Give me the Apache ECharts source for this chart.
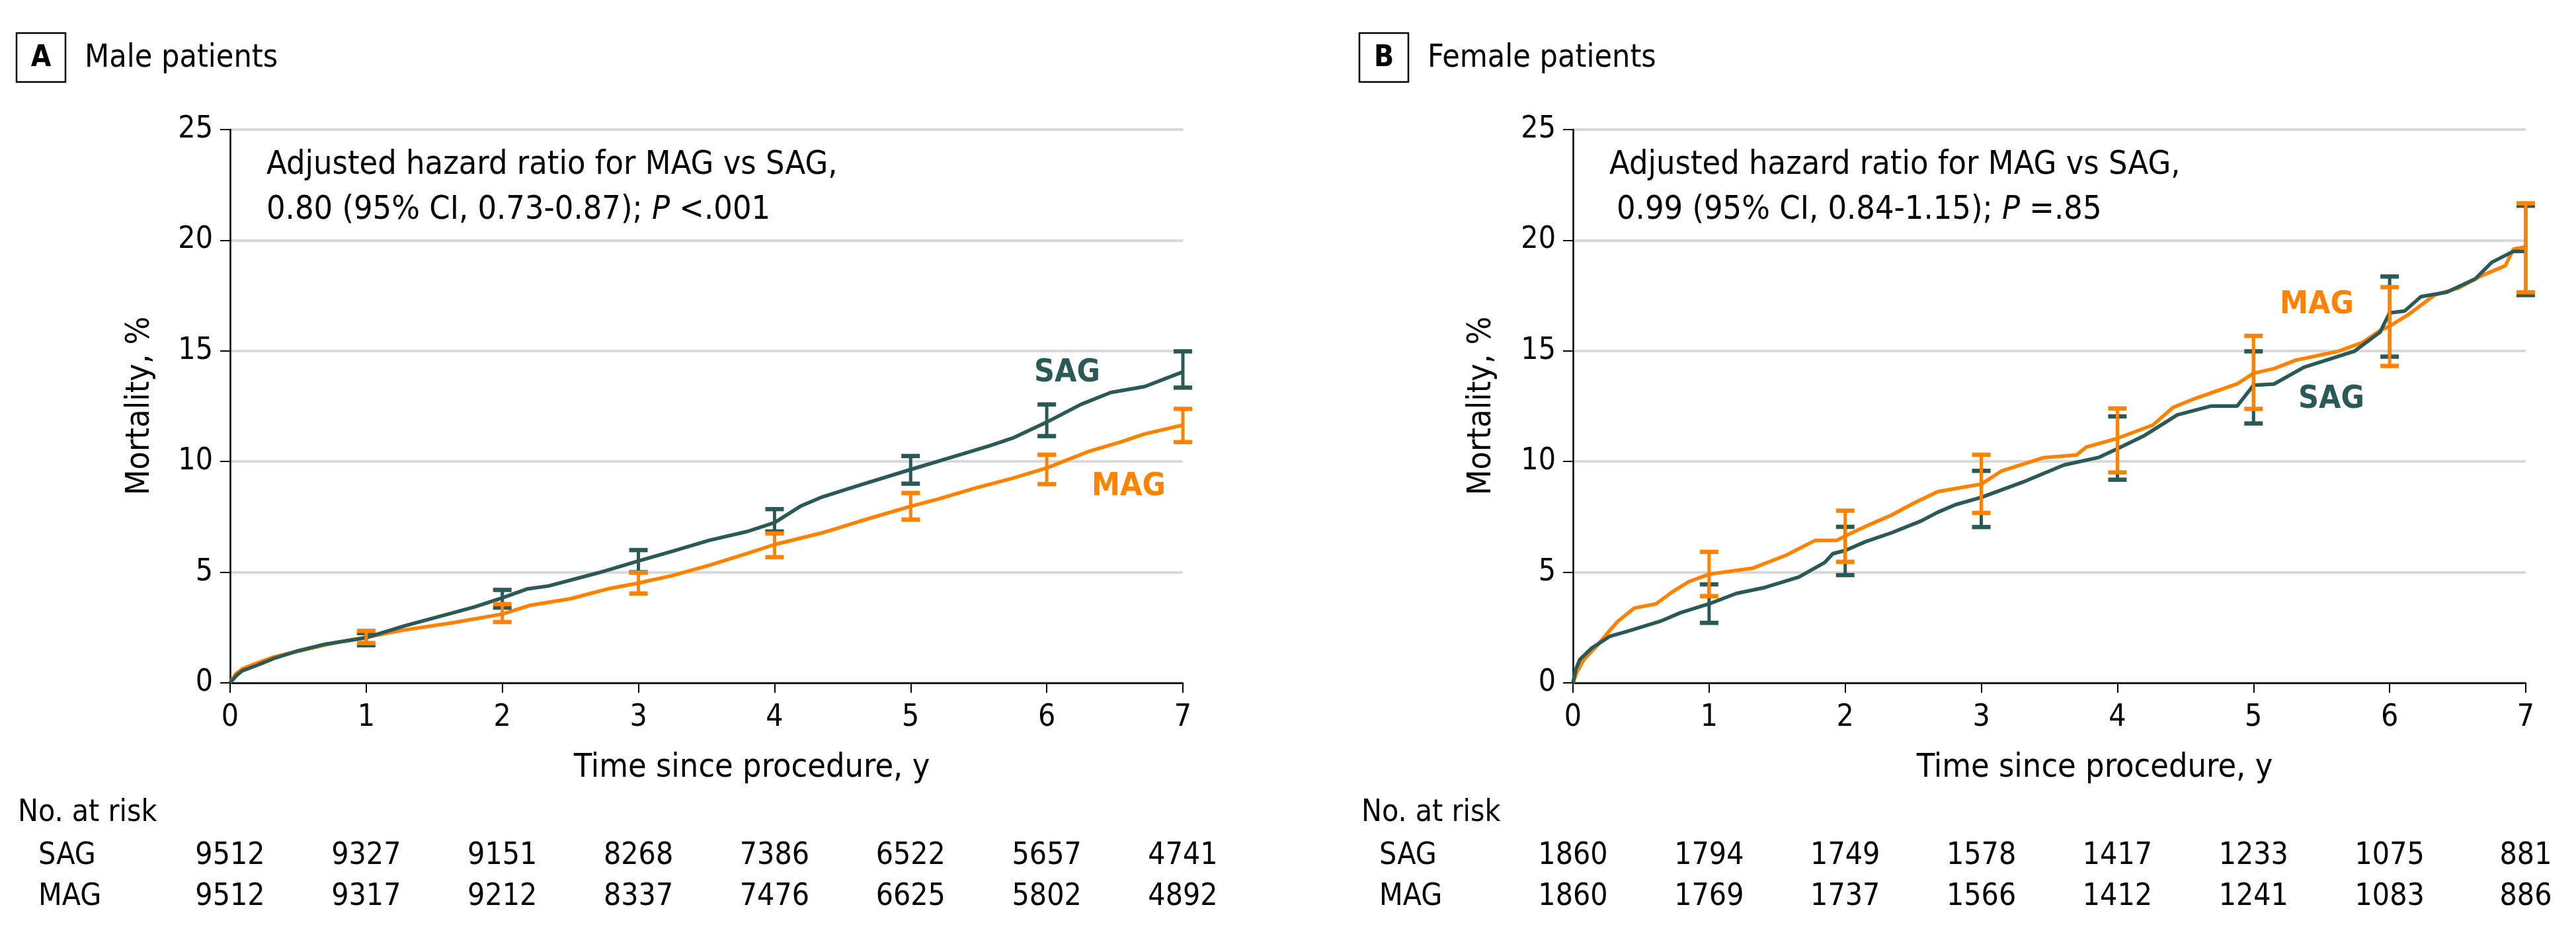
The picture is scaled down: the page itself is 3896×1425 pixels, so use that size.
<!DOCTYPE html>
<html>
<head>
<meta charset="utf-8">
<script src="https://cdn.jsdelivr.net/npm/echarts@6/dist/echarts.min.js"></script>
<style>
html,body{margin:0;padding:0;background:#fff;}
#c{width:3896px;height:1425px;}
</style>
</head>
<body>
<div id="c"></div>
<script>
// ---------------- DATA ----------------
const xTicks = [0, 1, 2, 3, 4, 5, 6, 7];
const yTicks = [0, 5, 10, 15, 20, 25];

// Panel A: male patients — cumulative mortality (%) vs time (y)
const maleSAG = [[0,0],[0.05,0.35],[0.09,0.55],[0.2,0.8],[0.32,1.1],[0.5,1.45],[0.7,1.75],[1,2.04],[1.28,2.57],[1.64,3.17],[1.8,3.44],[2,3.84],[2.18,4.24],[2.34,4.38],[2.71,4.98],[3,5.51],[3.25,5.95],[3.52,6.44],[3.8,6.84],[4,7.24],[4.19,7.98],[4.35,8.4],[4.63,8.94],[5,9.64],[5.33,10.25],[5.58,10.71],[5.75,11.06],[6,11.78],[6.25,12.58],[6.47,13.12],[6.72,13.39],[6.86,13.72],[7,14.05]];
const maleMAG = [[0,0],[0.04,0.4],[0.09,0.64],[0.2,0.9],[0.32,1.17],[0.55,1.5],[0.79,1.84],[1,2.06],[1.26,2.37],[1.63,2.71],[2,3.11],[2.2,3.5],[2.5,3.8],[2.77,4.24],[3,4.51],[3.25,4.85],[3.52,5.31],[3.8,5.85],[4,6.25],[4.35,6.78],[4.63,7.31],[5,7.98],[5.2,8.3],[5.47,8.79],[5.75,9.25],[6,9.71],[6.3,10.44],[6.55,10.9],[6.72,11.25],[7,11.65]];
// 95% CI bars: [time, low, high]
const maleSAGci = [[1,1.7,2.25],[2,3.4,4.2],[3,5.0,6.0],[4,6.84,7.85],[5,9.0,10.25],[6,11.15,12.58],[7,13.34,14.98]];
const maleMAGci = [[1,1.8,2.35],[2,2.75,3.56],[3,4.04,4.98],[4,5.68,6.75],[5,7.38,8.58],[6,8.98,10.31],[7,10.88,12.38]];
const maleRiskSAG = [9512, 9327, 9151, 8268, 7386, 6522, 5657, 4741];
const maleRiskMAG = [9512, 9317, 9212, 8337, 7476, 6625, 5802, 4892];

// Panel B: female patients
const femaleSAG = [[0,0],[0.02,0.6],[0.05,1.05],[0.14,1.58],[0.27,2.1],[0.39,2.31],[0.64,2.78],[0.79,3.17],[1,3.57],[1.2,4.04],[1.41,4.31],[1.66,4.78],[1.85,5.44],[1.91,5.84],[2,5.98],[2.15,6.38],[2.34,6.78],[2.56,7.32],[2.68,7.71],[2.81,8.05],[3,8.38],[3.3,9.06],[3.61,9.85],[3.86,10.18],[4,10.58],[4.2,11.18],[4.44,12.11],[4.69,12.51],[4.88,12.51],[5,13.45],[5.15,13.5],[5.37,14.26],[5.74,14.98],[5.93,15.85],[6,16.72],[6.11,16.8],[6.23,17.45],[6.42,17.65],[6.63,18.26],[6.75,19.0],[6.91,19.5],[7,19.5]];
const femaleMAG = [[0,0],[0.03,0.5],[0.08,1.05],[0.18,1.7],[0.27,2.37],[0.33,2.78],[0.45,3.38],[0.61,3.57],[0.73,4.11],[0.85,4.57],[1,4.91],[1.32,5.18],[1.57,5.78],[1.78,6.44],[1.94,6.44],[2,6.64],[2.19,7.18],[2.34,7.58],[2.5,8.11],[2.68,8.64],[2.81,8.78],[3,8.98],[3.15,9.58],[3.46,10.18],[3.7,10.3],[3.77,10.65],[4,11.05],[4.26,11.65],[4.41,12.45],[4.57,12.85],[4.88,13.51],[5,13.99],[5.15,14.2],[5.31,14.58],[5.62,14.98],[5.8,15.38],[5.93,15.92],[6,16.12],[6.14,16.65],[6.33,17.52],[6.51,17.85],[6.67,18.38],[6.85,18.85],[6.91,19.6],[7,19.7]];
const femaleSAGci = [[1,2.71,4.45],[2,4.87,7.05],[3,7.04,9.58],[4,9.18,12.04],[5,11.72,14.98],[6,14.74,18.36],[7,17.52,21.56]];
const femaleMAGci = [[1,3.92,5.92],[2,5.47,7.78],[3,7.68,10.31],[4,9.51,12.4],[5,12.38,15.68],[6,14.32,17.88],[7,17.65,21.67]];
const femaleRiskSAG = [1860, 1794, 1749, 1578, 1417, 1233, 1075, 881];
const femaleRiskMAG = [1860, 1769, 1737, 1566, 1412, 1241, 1083, 886];

// ---------------- STYLE ----------------
const FONT = '"Liberation Sans Narrow", "DejaVu Sans Condensed", "Liberation Sans", sans-serif';
const C_SAG = '#2b5956';
const C_MAG = '#ff8300';
const GRID_W = 1441, GRID_H = 837, GRID_TOP = 196;
const LEFT_A = 348, LEFT_B = 2379;

const chart = echarts.init(document.getElementById('c'), null, {renderer: 'canvas'});

function xAxisCfg(gi) {
  return {
    gridIndex: gi, type: 'value', min: 0, max: 7, interval: 1,
    axisLine: {show: true, onZero: false, lineStyle: {color: '#000', width: 2.5}},
    axisTick: {show: true, length: 15, lineStyle: {color: '#000', width: 2}},
    axisLabel: {fontFamily: FONT, fontSize: 46, color: '#000', margin: 30},
    splitLine: {show: false}
  };
}
function yAxisCfg(gi) {
  return {
    gridIndex: gi, type: 'value', min: 0, max: 25, interval: 5,
    axisLine: {show: true, lineStyle: {color: '#000', width: 2.5}},
    axisTick: {show: true, length: 15, lineStyle: {color: '#000', width: 2}},
    axisLabel: {fontFamily: FONT, fontSize: 46, color: '#000', margin: 26},
    splitLine: {show: true, lineStyle: {color: '#d9d9d9', width: 4}}
  };
}
function lineSeries(gi, data, color, z) {
  return {
    type: 'line', xAxisIndex: gi, yAxisIndex: gi, data: data,
    showSymbol: false, symbol: 'none', smooth: false, z: z,
    lineStyle: {color: color, width: 5.5}, animation: false
  };
}
function ciSeries(gi, data, color, z) {
  return {
    type: 'custom', xAxisIndex: gi, yAxisIndex: gi, data: data, z: z, animation: false, clip: false,
    encode: {x: 0, y: [1, 2]},
    renderItem: function (params, api) {
      const t = api.value(0);
      const lo = api.coord([t, api.value(1)]);
      const hi = api.coord([t, api.value(2)]);
      const hw = 14;
      return {
        type: 'group',
        children: [
          {type: 'line', shape: {x1: lo[0], y1: lo[1], x2: hi[0], y2: hi[1]}, style: {stroke: color, lineWidth: 5}},
          {type: 'line', shape: {x1: hi[0] - hw, y1: hi[1], x2: hi[0] + hw, y2: hi[1]}, style: {stroke: color, lineWidth: 6.5}},
          {type: 'line', shape: {x1: lo[0] - hw, y1: lo[1], x2: lo[0] + hw, y2: lo[1]}, style: {stroke: color, lineWidth: 6.5}}
        ]
      };
    }
  };
}

chart.setOption({
  backgroundColor: '#fff',
  animation: false,
  grid: [
    {left: LEFT_A, top: GRID_TOP, width: GRID_W, height: GRID_H},
    {left: LEFT_B, top: GRID_TOP, width: GRID_W, height: GRID_H}
  ],
  xAxis: [xAxisCfg(0), xAxisCfg(1)],
  yAxis: [yAxisCfg(0), yAxisCfg(1)],
  series: [
    lineSeries(0, maleMAG, C_MAG, 2),
    lineSeries(0, maleSAG, C_SAG, 3),
    ciSeries(0, maleSAGci, C_SAG, 4),
    ciSeries(0, maleMAGci, C_MAG, 5),
    lineSeries(1, femaleMAG, C_MAG, 2),
    lineSeries(1, femaleSAG, C_SAG, 3),
    ciSeries(1, femaleSAGci, C_SAG, 4),
    ciSeries(1, femaleMAGci, C_MAG, 5)
  ]
});

// ---------------- TEXT / ANNOTATIONS ----------------
const g = [];
function txt(x, y, text, opt) {
  g.push(Object.assign({
    type: 'text', x: x, y: y, z: 50,
    style: Object.assign({text: text, fontFamily: FONT, fontSize: 46, fill: '#000',
      textAlign: 'left', textVerticalAlign: 'middle'}, opt || {})
  }));
}
function panelHeader(boxX, letter, title) {
  g.push({type: 'rect', shape: {x: boxX, y: 50, width: 74, height: 74}, z: 50,
    style: {fill: 'none', stroke: '#000', lineWidth: 2.5}});
  txt(boxX + 37, 89, letter, {textAlign: 'center', fontWeight: 'bold', fontSize: 44});
  txt(boxX + 103, 89, title, {fontSize: 48});
}
panelHeader(25, 'A', 'Male patients');
panelHeader(2056, 'B', 'Female patients');

// hazard ratio annotations
function annot(x, line1, line2a, pText, x2) {
  txt(x, 250, line1, {fontSize: 50});
  g.push({type: 'text', x: x2, y: 318, z: 50,
    style: {text: '{n|' + line2a + '}{i|P}{n|' + pText + '}',
      textVerticalAlign: 'middle', textAlign: 'left',
      rich: {n: {fontFamily: FONT, fontSize: 50, fill: '#000', color: '#000'},
             i: {fontFamily: FONT, fontSize: 50, fontStyle: 'italic', fill: '#000', color: '#000'}}}});
}
annot(403, 'Adjusted hazard ratio for MAG vs SAG,', '0.80 (95% CI, 0.73-0.87); ', ' <.001', 403);
annot(2434, 'Adjusted hazard ratio for MAG vs SAG,', '0.99 (95% CI, 0.84-1.15); ', ' =.85', 2445);

// axis titles
function yTitle(cx) {
  g.push({type: 'text', x: cx, y: 614, rotation: Math.PI / 2, z: 50,
    style: {text: 'Mortality, %', fontFamily: FONT, fontSize: 50, fill: '#000',
      textAlign: 'center', textVerticalAlign: 'middle'}});
}
yTitle(212);
yTitle(2241);
txt(1137, 1162, 'Time since procedure, y', {textAlign: 'center', fontSize: 50});
txt(3168, 1162, 'Time since procedure, y', {textAlign: 'center', fontSize: 50});

// curve labels
txt(1614, 565, 'SAG', {textAlign: 'center', fontSize: 48, fontWeight: 'bold', fill: C_SAG});
txt(1707, 737, 'MAG', {textAlign: 'center', fontSize: 48, fontWeight: 'bold', fill: C_MAG});
txt(3504, 462, 'MAG', {textAlign: 'center', fontSize: 48, fontWeight: 'bold', fill: C_MAG});
txt(3526, 605, 'SAG', {textAlign: 'center', fontSize: 48, fontWeight: 'bold', fill: C_SAG});

// number at risk tables (x positions from the axes' own scale)
function riskTable(gi, labelX, groupX, sag, mag) {
  txt(labelX, 1230, 'No. at risk', {fontSize: 46});
  txt(groupX, 1295, 'SAG', {fontSize: 46});
  txt(groupX, 1357, 'MAG', {fontSize: 46});
  xTicks.forEach(function (t, i) {
    const px = chart.convertToPixel({xAxisIndex: gi}, t);
    txt(px, 1295, String(sag[i]), {textAlign: 'center', fontSize: 46});
    txt(px, 1357, String(mag[i]), {textAlign: 'center', fontSize: 46});
  });
}
riskTable(0, 27, 58, maleRiskSAG, maleRiskMAG);
riskTable(1, 2059, 2086, femaleRiskSAG, femaleRiskMAG);

chart.setOption({graphic: g});
</script>
</body>
</html>
